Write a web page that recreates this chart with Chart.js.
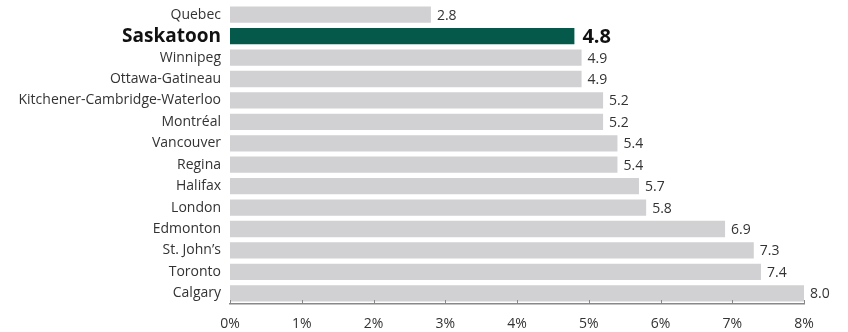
<!DOCTYPE html>
<html>
<head>
<meta charset="utf-8">
<script src="https://cdn.jsdelivr.net/npm/chart.js@4/dist/chart.umd.min.js"></script>
<style>
  html, body { margin: 0; padding: 0; background: #fff; }
  #wrap { width: 848px; height: 332px; }
</style>
</head>
<body>
<div id="wrap"><canvas id="chart-rates"></canvas></div>
<script>
var cities = [
    "Quebec", "Saskatoon", "Winnipeg", "Ottawa-Gatineau",
    "Kitchener-Cambridge-Waterloo", "Montréal", "Vancouver", "Regina",
    "Halifax", "London", "Edmonton", "St. John’s", "Toronto", "Calgary"
];
var rates = [2.8, 4.8, 4.9, 4.9, 5.2, 5.2, 5.4, 5.4, 5.7, 5.8, 6.9, 7.3, 7.4, 8.0];
var highlightCity = "Saskatoon";

var grey = "#d1d1d3";
var green = "#04594b";
var fontFamily = "'Open Sans', sans-serif";

var barColors = cities.map(function (c) { return c === highlightCity ? green : grey; });

// value labels at the end of each bar
var valueLabels = {
    id: 'valueLabels',
    afterDatasetsDraw: function (chart) {
        var ctx = chart.ctx;
        var meta = chart.getDatasetMeta(0);
        ctx.save();
        ctx.textBaseline = 'middle';
        ctx.textAlign = 'left';
        meta.data.forEach(function (bar, i) {
            var big = cities[i] === highlightCity;
            ctx.font = (big ? 'bold 20px ' : '14px ') + fontFamily;
            ctx.fillStyle = big ? '#111' : '#333';
            ctx.fillText(rates[i].toFixed(1), bar.x + (big ? 8 : 6), bar.y + 1);
        });
        ctx.restore();
    }
};

// small upward tick marks on the baseline
var axisTicks = {
    id: 'axisTicks',
    afterDatasetsDraw: function (chart) {
        var ctx = chart.ctx;
        var x = chart.scales.x;
        var y0 = chart.chartArea.bottom;
        ctx.save();
        ctx.strokeStyle = '#888';
        ctx.lineWidth = 1;
        x.ticks.forEach(function (t) {
            var px = Math.round(x.getPixelForValue(t.value)) + 0.5;
            ctx.beginPath();
            ctx.moveTo(px, y0);
            ctx.lineTo(px, y0 - 4);
            ctx.stroke();
        });
        ctx.restore();
    }
};

var ctxRates = document.getElementById('chart-rates').getContext('2d');
var chartRates = new Chart(ctxRates, {
    type: 'bar',
    data: {
        labels: cities,
        datasets: [{
            data: rates,
            backgroundColor: barColors,
            borderWidth: 0,
            barPercentage: 0.76,
            categoryPercentage: 1
        }]
    },
    options: {
        indexAxis: 'y',
        responsive: true,
        maintainAspectRatio: false,
        animation: false,
        layout: { padding: { top: 4, right: 44, bottom: 0, left: 0 } },
        plugins: {
            legend: { display: false },
            tooltip: { enabled: false }
        },
        scales: {
            x: {
                min: 0,
                max: 8,
                ticks: {
                    stepSize: 1,
                    color: '#333',
                    padding: 12,
                    font: { family: fontFamily, size: 14 },
                    callback: function (v) { return v + '%'; }
                },
                grid: { display: false, drawTicks: false },
                border: { display: true, color: '#888', width: 1.5 },
                afterFit: function (scale) { scale.height = 28; }
            },
            y: {
                ticks: {
                    autoSkip: false,
                    color: function (c) { return cities[c.index] === highlightCity ? '#111' : '#333'; },
                    padding: 9,
                    font: function (c) {
                        return cities[c.index] === highlightCity
                            ? { family: fontFamily, size: 19, weight: 'bold' }
                            : { family: fontFamily, size: 14 };
                    }
                },
                grid: { display: false, drawTicks: false },
                border: { display: false },
                afterFit: function (scale) {
                    scale.width = 230;
                    scale.paddingTop = 0;
                    scale.paddingBottom = 0;
                }
            }
        }
    },
    plugins: [valueLabels, axisTicks]
});
</script>
</body>
</html>
